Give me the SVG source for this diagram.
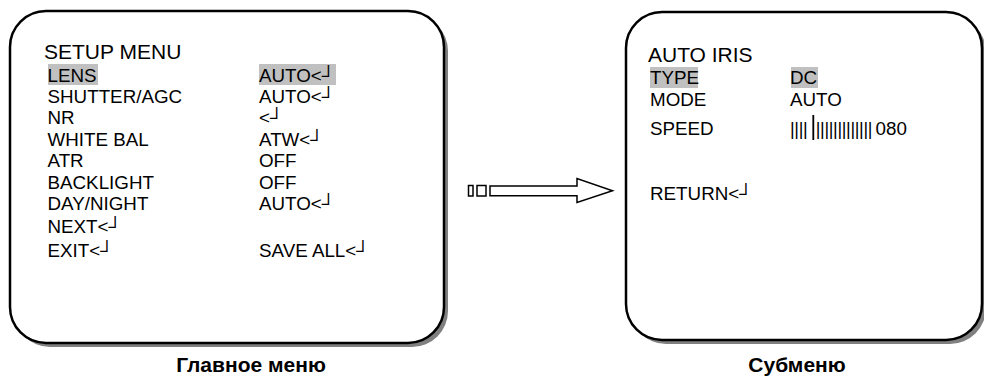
<svg xmlns="http://www.w3.org/2000/svg" width="984" height="376" viewBox="0 0 984 376">
<style>
.box{fill:#fff;stroke:#000;stroke-width:2.5}
.shadow{fill:#808080;stroke:none}
.t{font-family:"Liberation Sans",Arial,"DejaVu Sans",sans-serif;font-size:18.8px;fill:#000}
.title{font-size:21px}
.cap{font-family:"Liberation Sans",Arial,sans-serif;font-size:21px;font-weight:bold;fill:#000;text-anchor:middle}
.hl{fill:#c0c0c0}
.bar{font-family:"Liberation Sans",Arial,sans-serif;font-size:18px;fill:#000;letter-spacing:-0.35px}
.arrow{fill:#fff;stroke:#000;stroke-width:1.5}
</style>
<rect width="984" height="376" fill="#fff"/>
<g id="main-menu">
<rect class="shadow" x="14" y="15" width="434" height="332" rx="36"/>
<rect class="box" x="10" y="11" width="434" height="332" rx="36"/>
<rect class="hl" x="48" y="64" width="50" height="21"/>
<rect class="hl" x="259" y="64" width="77" height="21"/>
<text class="t title" x="44" y="58.5">SETUP MENU</text>
<text class="t" x="47.5" y="81.5">LENS</text>
<text class="t" x="47.5" y="103">SHUTTER/AGC</text>
<text class="t" x="47.5" y="124">NR</text>
<text class="t" x="47.5" y="146">WHITE BAL</text>
<text class="t" x="47.5" y="167">ATR</text>
<text class="t" x="47.5" y="189">BACKLIGHT</text>
<text class="t" x="47.5" y="210">DAY/NIGHT</text>
<text class="t" x="47.5" y="232.5">NEXT&lt;┘</text>
<text class="t" x="47.5" y="256.5">EXIT&lt;┘</text>
<text class="t" x="259" y="81.5">AUTO&lt;┘</text>
<text class="t" x="259" y="103">AUTO&lt;┘</text>
<text class="t" x="259" y="124">&lt;┘</text>
<text class="t" x="259" y="146">ATW&lt;┘</text>
<text class="t" x="259" y="167">OFF</text>
<text class="t" x="259" y="189">OFF</text>
<text class="t" x="259" y="210">AUTO&lt;┘</text>
<text class="t" x="259" y="256.5">SAVE ALL&lt;┘</text>
</g>
<g id="sub-menu">
<rect class="shadow" x="630" y="16" width="356" height="328" rx="36"/>
<rect class="box" x="626" y="12" width="356" height="328" rx="36"/>
<rect class="hl" x="650" y="67" width="48" height="21"/>
<rect class="hl" x="791" y="67" width="27" height="21"/>
<text class="t title" x="648" y="61.5">AUTO IRIS</text>
<text class="t" x="650" y="84">TYPE</text>
<text class="t" x="650" y="106">MODE</text>
<text class="t" x="650" y="135">SPEED</text>
<text class="t" x="650" y="200">RETURN&lt;┘</text>
<text class="t" x="790" y="84">DC</text>
<text class="t" x="790" y="106">AUTO</text>
<text class="bar" x="790" y="135">||||</text>
<line x1="813.3" y1="115" x2="813.3" y2="140" stroke="#000" stroke-width="1.8"/>
<text class="bar" x="815.8" y="135">|||||||||||||</text>
<text class="t" x="875.5" y="135">080</text>
</g>
<g id="connectors">
<rect class="arrow" x="468.5" y="185.5" width="4.5" height="10.5"/>
<rect class="arrow" x="477" y="185.5" width="9" height="10.5"/>
<polygon class="arrow" points="490,186 577,186 577,178.5 612.5,190.7 577,202.5 577,195.7 490,195.7"/>
</g>
<g id="captions">
<text class="cap" x="251" y="372">Главное меню</text>
<text class="cap" x="797" y="372">Субменю</text>
</g>
</svg>
